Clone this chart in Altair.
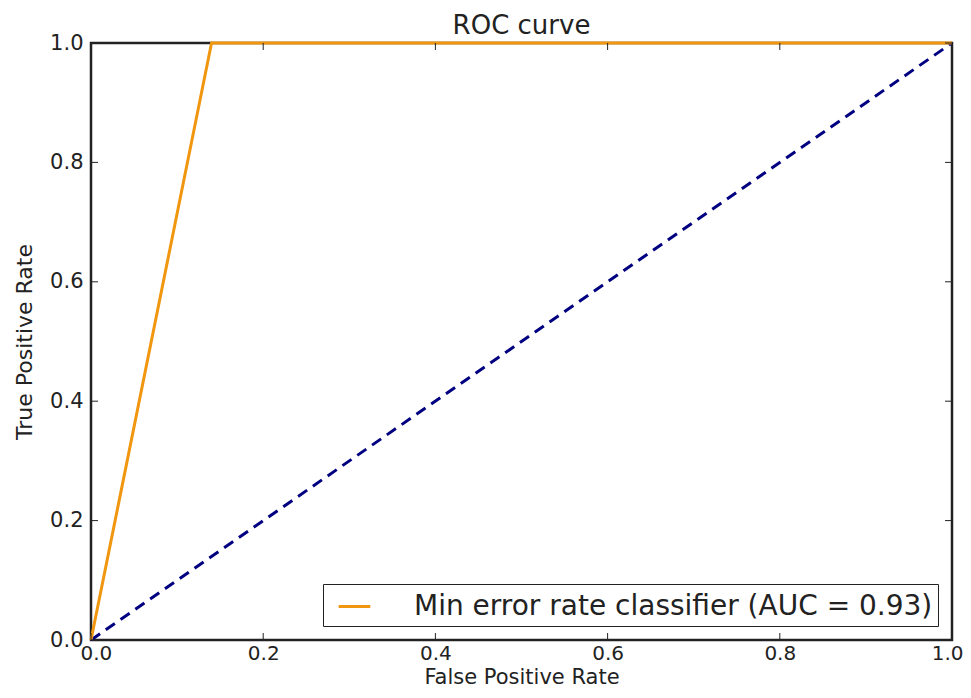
import altair as alt
import pandas as pd

# ROC curve of the classifier
roc_fpr = [0.0, 0.14, 1.0]
roc_tpr = [0.0, 1.0, 1.0]
roc_label = "Min error rate classifier (AUC = 0.93)"

# chance diagonal
diag_x = [0.0, 1.0]
diag_y = [0.0, 1.0]

ticks = [0.0, 0.2, 0.4, 0.6, 0.8, 1.0]

W, H = 861, 597
FONT = "DejaVu Sans"

roc_df = pd.DataFrame({"fpr": roc_fpr, "tpr": roc_tpr, "series": [roc_label] * len(roc_fpr)})
diag_df = pd.DataFrame({"fpr": diag_x, "tpr": diag_y})
tick_df = pd.DataFrame({"t": ticks})

xscale = alt.Scale(domain=[0, 1], nice=False, zero=False)
yscale = alt.Scale(domain=[0, 1], nice=False, zero=False)

xaxis = alt.Axis(title="False Positive Rate", values=ticks, format=".1f", tickSize=0,
                 labelPadding=3, grid=False, domain=False, titlePadding=3,
                 labelFlush=True, labelFlushOffset=11,
                 labelFont=FONT, labelFontSize=20, labelColor="#222",
                 titleFont=FONT, titleFontSize=21, titleFontWeight="normal", titleColor="#222")
yaxis = alt.Axis(title="True Positive Rate", values=ticks, format=".1f", tickSize=0,
                 labelPadding=8, grid=False, domain=False, titlePadding=13, labelFlush=False,
                 labelFont=FONT, labelFontSize=21, labelColor="#222",
                 titleFont=FONT, titleFontSize=22, titleFontWeight="normal", titleColor="#222")

diag = alt.Chart(diag_df).mark_line(color="#000080", strokeWidth=3, strokeDash=[11, 7]).encode(
    x=alt.X("fpr:Q", scale=xscale, axis=xaxis),
    y=alt.Y("tpr:Q", scale=yscale, axis=yaxis),
)

roc = alt.Chart(roc_df).mark_line(strokeWidth=3, clip=False).encode(
    x=alt.X("fpr:Q", scale=xscale),
    y=alt.Y("tpr:Q", scale=yscale),
    color=alt.Color("series:N", scale=alt.Scale(range=["#f0960f"]),
                    legend=alt.Legend(title=None, orient="bottom-right", offset=14,
                                      symbolType="stroke", symbolStrokeWidth=3, symbolSize=1000,
                                      symbolOffset=9,
                                      labelFontSize=28, labelFont=FONT, labelColor="#222",
                                      strokeColor="#222", fillColor="white", padding=5,
                                      labelOffset=42, cornerRadius=0, labelLimit=900)),
)

tl = 7
bottom_ticks = alt.Chart(tick_df).mark_rule(color="#222", strokeWidth=1).encode(
    x=alt.X("t:Q", scale=xscale), y=alt.value(H), y2=alt.value(H - tl))
top_ticks = alt.Chart(tick_df).mark_rule(color="#222", strokeWidth=1).encode(
    x=alt.X("t:Q", scale=xscale), y=alt.value(0), y2=alt.value(tl))
left_ticks = alt.Chart(tick_df).mark_rule(color="#222", strokeWidth=1).encode(
    y=alt.Y("t:Q", scale=yscale), x=alt.value(0), x2=alt.value(tl))
right_ticks = alt.Chart(tick_df).mark_rule(color="#222", strokeWidth=1).encode(
    y=alt.Y("t:Q", scale=yscale), x=alt.value(W), x2=alt.value(W - tl))

chart = alt.layer(diag, roc, bottom_ticks, top_ticks, left_ticks, right_ticks).properties(
    width=W, height=H,
    title=alt.TitleParams("ROC curve", fontSize=26, font=FONT, fontWeight="normal", color="#222",
                          offset=2, dy=9),
    padding={"left": 83, "top": 35, "right": 11, "bottom": 49},
    autosize=alt.AutoSizeParams(type="none"),
    background="white",
).configure_view(
    stroke="#222", strokeWidth=2.5
)

chart.save("out.html", embed_options={"renderer": "svg", "actions": False})
